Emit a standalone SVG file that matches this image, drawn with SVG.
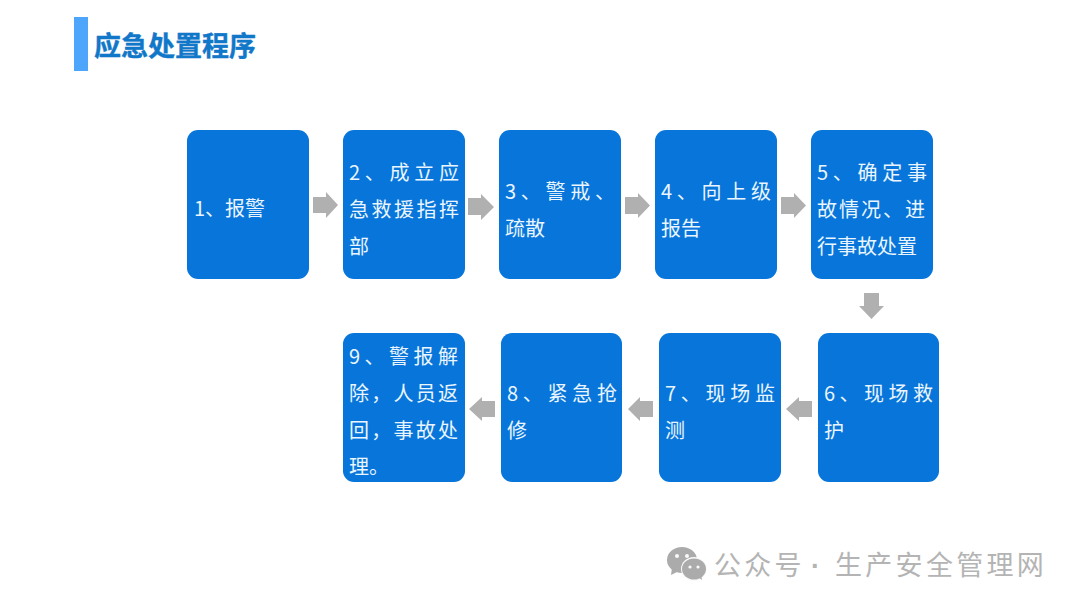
<svg xmlns="http://www.w3.org/2000/svg" width="1080" height="608" viewBox="0 0 1080 608">
<style>
text{font-family:"Noto Sans CJK SC","Noto Sans",sans-serif}
.box{fill:#0775d9}
.t{fill:#eaf5ff;font-size:20px}
.arr{fill:#b0b0b0}
.title{fill:#1177c9;font-size:27px;font-weight:700;stroke:#1177c9;stroke-width:.4px}
.wm{fill:#b4b4b4;font-size:27px;letter-spacing:3.300px}
.dot{font-family:"Liberation Sans",sans-serif;font-weight:700}
.ic{fill:#ababab}
.eye{fill:#fafafa}
</style>
<rect width="1080" height="608" fill="#fff"/>
<g id="header">
<rect x="74" y="17" width="14" height="54" fill="#4da6fb"/>
<text class="title" x="94" y="56" textLength="162">应急处置程序</text>
</g>
<g id="connectors">
<path id="a1" class="arr" d="M313 197H326V192L338 205L326 218V213H313Z"/>
<path id="a2" class="arr" d="M468 198H481V194L494 207L481 220V215H468Z"/>
<path id="a3" class="arr" d="M625 197H638V193L650 205.500L638 218V214H625Z"/>
<path id="a4" class="arr" d="M781 197H794V193L806 205.500L794 218V214H781Z"/>
<path id="a5" class="arr" d="M864 293H879V306H884L871.500 319L859 306H864Z"/>
<path id="a6" class="arr" d="M812 401H799V397L786 409L799 421V417H812Z"/>
<path id="a7" class="arr" d="M653 401H640V397L628 409L640 421V417H653Z"/>
<path id="a8" class="arr" d="M495 401H482V397L469 409L482 421V417H495Z"/>
</g>
<g id="n1"><rect class="box" x="187" y="130" width="122" height="149" rx="11"/>
<text class="t" x="194" y="216">1、报警</text></g>
<g id="n2"><rect class="box" x="343" y="130" width="122" height="149" rx="11"/>
<text class="t" x="349" y="180" textLength="110">2、成立应</text>
<text class="t" x="349" y="217" textLength="110">急救援指挥</text>
<text class="t" x="349" y="254">部</text></g>
<g id="n3"><rect class="box" x="499" y="130" width="122" height="149" rx="11"/>
<text class="t" x="505" y="199" textLength="110">3、警戒、</text>
<text class="t" x="505" y="236">疏散</text></g>
<g id="n4"><rect class="box" x="655" y="130" width="122" height="149" rx="11"/>
<text class="t" x="661" y="199" textLength="110">4、向上级</text>
<text class="t" x="661" y="236">报告</text></g>
<g id="n5"><rect class="box" x="811" y="130" width="122" height="149" rx="11"/>
<text class="t" x="817" y="180" textLength="110">5、确定事</text>
<text class="t" x="817" y="217" textLength="108">故情况、进</text>
<text class="t" x="817" y="254">行事故处置</text></g>
<g id="n6"><rect class="box" x="818" y="333" width="121" height="149" rx="11"/>
<text class="t" x="824" y="401" textLength="109">6、现场救</text>
<text class="t" x="824" y="438">护</text></g>
<g id="n7"><rect class="box" x="659" y="333" width="122" height="149" rx="11"/>
<text class="t" x="665" y="401" textLength="110">7、现场监</text>
<text class="t" x="665" y="438">测</text></g>
<g id="n8"><rect class="box" x="501" y="333" width="121" height="149" rx="11"/>
<text class="t" x="507" y="401" textLength="110">8、紧急抢</text>
<text class="t" x="507" y="438">修</text></g>
<g id="n9"><rect class="box" x="343" y="333" width="122" height="149" rx="11"/>
<text class="t" x="349" y="364" textLength="109">9、警报解</text>
<text class="t" x="349" y="401" textLength="109">除，人员返</text>
<text class="t" x="349" y="438" textLength="109">回，事故处</text>
<text class="t" x="349" y="474">理。</text></g>
<g id="watermark">
<ellipse class="ic" cx="682" cy="560" rx="15" ry="13"/>
<path class="ic" d="M672 568L671 575L679 571Z"/>
<ellipse class="eye" cx="694" cy="569" rx="13" ry="12"/>
<ellipse class="ic" cx="694" cy="569" rx="12" ry="10.500"/>
<path class="ic" d="M698 577L702 580L701 574Z"/>
<circle class="eye" cx="677" cy="556" r="2"/><circle class="eye" cx="687" cy="556" r="2"/>
<circle class="eye" cx="690" cy="567" r="1.600"/><circle class="eye" cx="698" cy="567" r="1.600"/>
<text class="wm" y="575"><tspan x="714">公众号</tspan><tspan class="dot" x="811">·</tspan><tspan x="835">生产安全管理网</tspan></text>
</g>
</svg>
